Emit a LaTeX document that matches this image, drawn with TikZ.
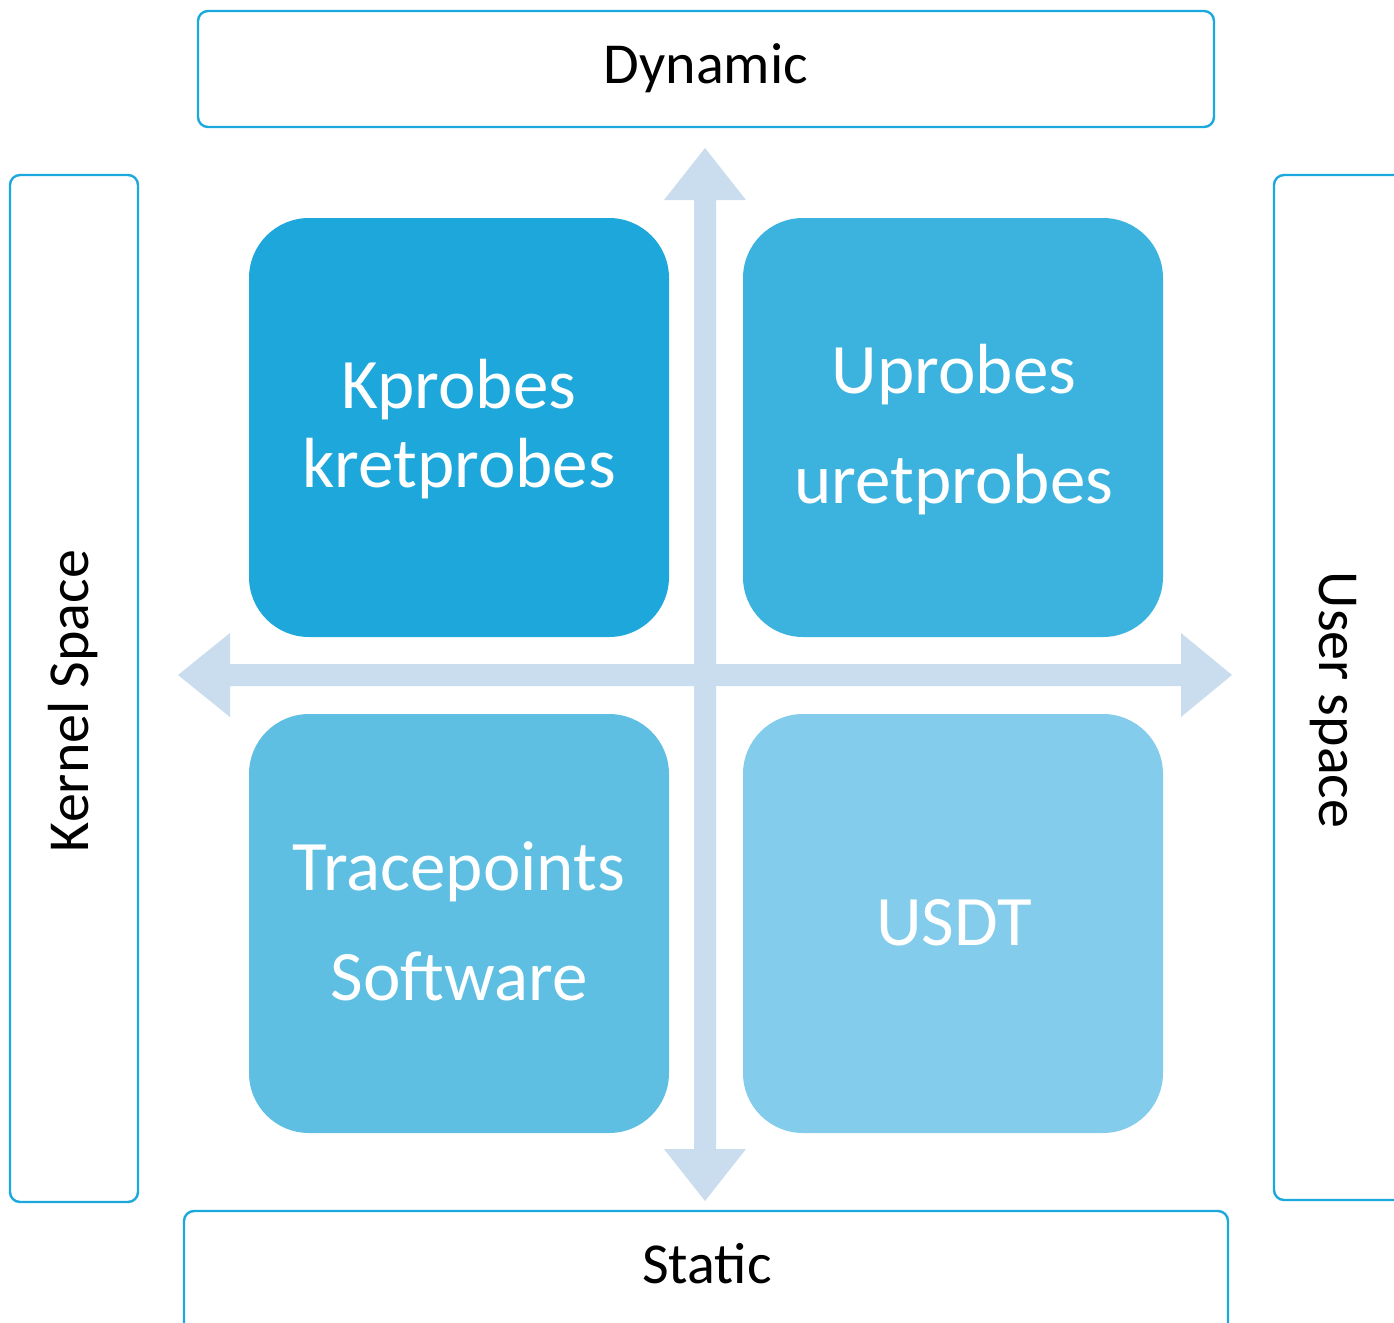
\documentclass[tikz,border=0pt]{standalone}
\usepackage{fontspec}
\setmainfont{Carlito}
\definecolor{frameblue}{HTML}{1BA8DC}
\definecolor{axisblue}{HTML}{CADDEF}
\definecolor{qone}{HTML}{1DA7DB}
\definecolor{qtwo}{HTML}{3CB3DF}
\definecolor{qthree}{HTML}{5EBFE3}
\definecolor{qfour}{HTML}{83CCEB}
\begin{document}
\begin{tikzpicture}[x=0.5pt,y=-0.5pt,
  framebox/.style={draw=frameblue,line width=1.2pt,rounded corners=5pt,fill=white},
  quad/.style={rounded corners=30pt,draw=none},
  bigtext/.style={text=white,font=\fontsize{35.5}{40}\selectfont,inner sep=0pt,anchor=base},
  sidetext/.style={text=black,font=\fontsize{29}{34}\selectfont,inner sep=0pt}]
\useasboundingbox (0,0) rectangle (1394,1323);

% outer frames
\draw[framebox] (198,11) rectangle (1214,127);
\draw[framebox] (184,1211) rectangle (1228,1340);
\draw[framebox] (10,175) rectangle (138,1202);
\draw[framebox] (1274,175) rectangle (1410,1200);

\node[sidetext,anchor=base] (dyn) at (706,83) {Dynamic};
\node[sidetext,anchor=base] (sta) at (707,1283) {Static};
\node[sidetext,rotate=90] (ker) at (73,701) {Kernel Space};
\node[sidetext,rotate=-90] (usr) at (1333,700) {User space};

% axes
\fill[axisblue] (178,675) -- (230,633) -- (230,664) -- (694,664) -- (694,200)
  -- (664,200) -- (705,148) -- (746,200) -- (716,200) -- (716,664) -- (1181,664)
  -- (1181,633) -- (1232,675) -- (1181,717) -- (1181,686) -- (716,686) -- (716,1149)
  -- (746,1149) -- (705,1201) -- (664,1149) -- (694,1149) -- (694,686) -- (230,686)
  -- (230,717) -- cycle;

% quadrants
\fill[quad,qone]   (249,218) rectangle (669,637);
\fill[quad,qtwo]   (743,218) rectangle (1163,637);
\fill[quad,qthree] (249,714) rectangle (669,1133);
\fill[quad,qfour]  (743,714) rectangle (1163,1133);

\node[bigtext] (kp)  at (459,408) {Kprobes};
\node[bigtext] (krp) at (459,487) {kretprobes};
\node[bigtext] (up)  at (954,393) {Uprobes};
\node[bigtext] (urp) at (954,503) {uretprobes};
\node[bigtext] (tp)  at (459,890) {Tracepoints};
\node[bigtext] (sw)  at (459,1000) {Software};
\node[bigtext] (usdt) at (954,945) {USDT};
\end{tikzpicture}
\end{document}
